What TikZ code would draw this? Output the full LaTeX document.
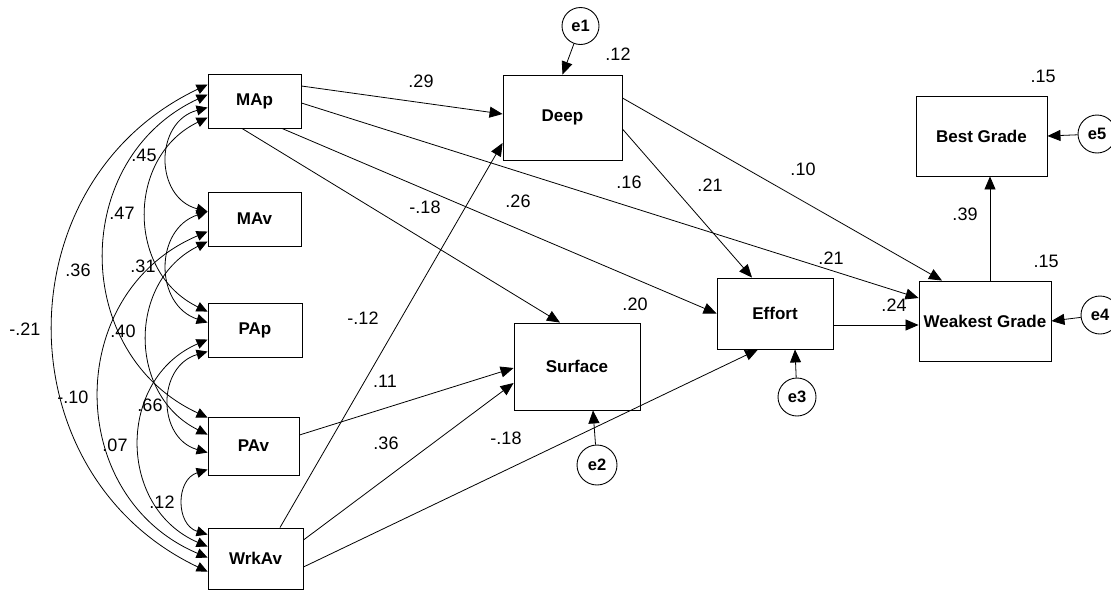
\documentclass[tikz,border=0pt]{standalone}
\usepackage{fontspec}
\setmainfont{Liberation Sans}
\usetikzlibrary{arrows.meta,calc}

\tikzset{
  varbox/.style={draw, rectangle, line width=0.9pt, inner sep=0pt,
    font=\bfseries\fontsize{17}{19}\selectfont},
  errnode/.style={draw, circle, line width=0.9pt, inner sep=0pt,
    font=\bfseries\fontsize{16.5}{18}\selectfont},
  coef/.style={inner sep=0pt, font=\fontsize{18}{20}\selectfont},
  regpath/.style={line width=0.8pt, -{Triangle[length=13pt,width=11pt]}},
  covarc/.style={line width=0.8pt,
    {Triangle[length=11pt,width=10pt]}-{Triangle[length=11pt,width=10pt]}}
}

\begin{document}
\begin{tikzpicture}[x=1pt,y=-1pt]
\useasboundingbox (0,0) rectangle (1111,592);

% observed (exogenous) variables
\node[varbox, minimum width=93pt, minimum height=54pt] (MAp)   at (254.5,101)   {MAp};
\node[varbox, minimum width=93pt, minimum height=54pt] (MAv)   at (254.5,219)   {MAv};
\node[varbox, minimum width=94pt, minimum height=54pt] (PAp)   at (255,330)     {PAp};
\node[varbox, minimum width=91pt, minimum height=58pt] (PAv)   at (253.5,446)   {PAv};
\node[varbox, minimum width=95pt, minimum height=61pt] (WrkAv) at (255.5,558.5) {WrkAv};

% endogenous variables
\node[varbox, minimum width=119pt, minimum height=85pt] (Deep)    at (562.5,117.5) {Deep};
\node[varbox, minimum width=126pt, minimum height=87pt] (Surface) at (577,366.5)   {Surface};
\node[varbox, minimum width=116pt, minimum height=71pt] (Effort)  at (775,313.5)   {Effort};
\node[varbox, minimum width=131pt, minimum height=80pt] (Best)    at (981.5,136)   {Best Grade};
\node[varbox, minimum width=132pt, minimum height=80pt] (Weakest) at (985,321)     {Weakest Grade};

% error terms
\node[errnode, minimum size=37pt] (e1) at (580.5,26) {e1};
\node[errnode, minimum size=40pt] (e2) at (597,465) {e2};
\node[errnode, minimum size=38pt] (e3) at (797,397) {e3};
\node[errnode, minimum size=38pt] (e4) at (1100,315) {e4};
\node[errnode, minimum size=38pt] (e5) at (1097,134) {e5};

% regression paths
\draw[regpath] ($(MAp.east)+(0,-15)$) -- ($(Deep.west)+(0,-3.5)$);
\draw[regpath] ($(MAp.east)+(0,2)$) -- ($(Weakest.west)+(0,-23)$);
\draw[regpath] ($(MAp.south)+(27.5,0)$) -- (Effort.west);
\draw[regpath] ($(MAp.south)+(-12.5,0)$) -- ($(Surface.north)+(-17,0)$);
\draw[regpath] ($(Deep.east)+(0,11.5)$) -- ($(Effort.north)+(-23,0)$);
\draw[regpath] ($(Deep.east)+(0,-19.5)$) -- ($(Weakest.north)+(-43,0)$);
\draw[regpath] ($(Effort.east)+(0,11.5)$) -- ($(Weakest.west)+(0,4)$);
\draw[regpath] ($(Weakest.north)+(5,0)$) -- ($(Best.south)+(8.5,0)$);
\draw[regpath] ($(PAv.east)+(0,-11)$) -- ($(Surface.west)+(0,1.5)$);
\draw[regpath] ($(WrkAv.east)+(0,-18.5)$) -- ($(Surface.west)+(0,16.5)$);
\draw[regpath] ($(WrkAv.east)+(0,8.5)$) -- ($(Effort.south)+(-17,0)$);
\draw[regpath] ($(WrkAv.north)+(24.5,0)$) -- ($(Deep.west)+(0,25.5)$);

% residual paths
\draw[regpath] (e1) -- (Deep.north);
\draw[regpath] (e2) -- ($(Surface.south)+(16,0)$);
\draw[regpath] (e3) -- ($(Effort.south)+(20,0)$);
\draw[regpath] (e4) -- (Weakest.east);
\draw[regpath] (e5) -- (Best.east);

% covariances among the exogenous variables (circular arcs)
\draw[covarc] ($(MAp.north west)+(0,11)$) .. controls +(-205.3,97.4) and +(-205.3,-97.4) .. ($(WrkAv.north west)+(0,44)$);
\draw[covarc] ($(MAp.north west)+(0,21)$) .. controls +(-137.3,63.9) and +(-137.3,-63.9) .. ($(PAv.north west)+(0,1)$);
\draw[covarc] ($(MAp.north west)+(0,34)$) .. controls +(-53.3,14.2) and +(-53.3,-14.2) .. ($(MAv.north west)+(0,20)$);
\draw[covarc] ($(MAp.north west)+(0,44)$) .. controls +(-81.3,39.1) and +(-81.3,-39.1) .. ($(PAp.north west)+(0,9)$);
\draw[covarc] ($(MAv.north west)+(0,20)$) .. controls +(-53.3,17.8) and +(-53.3,-17.8) .. ($(PAp.north west)+(0,20)$);
\draw[covarc] ($(MAv.north west)+(0,40)$) .. controls +(-144,61) and +(-144,-61) .. ($(WrkAv.north west)+(0,30)$);
\draw[covarc] ($(MAv.north west)+(0,50)$) .. controls +(-80,39.5) and +(-80,-39.5) .. ($(PAv.north west)+(0,18)$);
\draw[covarc] ($(PAp.north west)+(0,37)$) .. controls +(-90.7,39.2) and +(-90.7,-39.2) .. ($(WrkAv.north west)+(0,19)$);
\draw[covarc] ($(PAp.north west)+(0,49)$) .. controls +(-50.7,14.6) and +(-50.7,-14.6) .. ($(PAv.north west)+(0,36)$);
\draw[covarc] ($(PAv.north west)+(0,53)$) .. controls +(-32,9.9) and +(-32,-9.9) .. ($(WrkAv.north west)+(0,7)$);

% path coefficients
\node[coef] (c1)  at (421,81)   {.29};
\node[coef] (c2)  at (629,182)  {.16};
\node[coef] (c3)  at (518,201)  {.26};
\node[coef] (c4)  at (425,207)  {-.18};
\node[coef] (c5)  at (803,169)  {.10};
\node[coef] (c6)  at (710,185)  {.21};
\node[coef] (c7)  at (894,305)  {.24};
\node[coef] (c8)  at (965,214)  {.39};
\node[coef] (c9)  at (363,318)  {-.12};
\node[coef] (c10) at (385,381)  {.11};
\node[coef] (c11) at (386,443)  {.36};
\node[coef] (c12) at (506,438)  {-.18};

% squared multiple correlations
\node[coef] (r1) at (618,54)   {.12};
\node[coef] (r2) at (635,304)  {.20};
\node[coef] (r3) at (831,258)  {.21};
\node[coef] (r4) at (1043,76)  {.15};
\node[coef] (r5) at (1046,261) {.15};

% correlations
\node[coef] (k1)  at (144,155) {.45};
\node[coef] (k2)  at (122,213) {.47};
\node[coef] (k3)  at (78,270)  {.36};
\node[coef] (k4)  at (143,266) {.31};
\node[coef] (k5)  at (25,329)  {-.21};
\node[coef] (k6)  at (123,331) {.40};
\node[coef] (k7)  at (73,397)  {-.10};
\node[coef] (k8)  at (150,405) {.66};
\node[coef] (k9)  at (115,445) {.07};
\node[coef] (k10) at (162,502) {.12};
\end{tikzpicture}
\end{document}
